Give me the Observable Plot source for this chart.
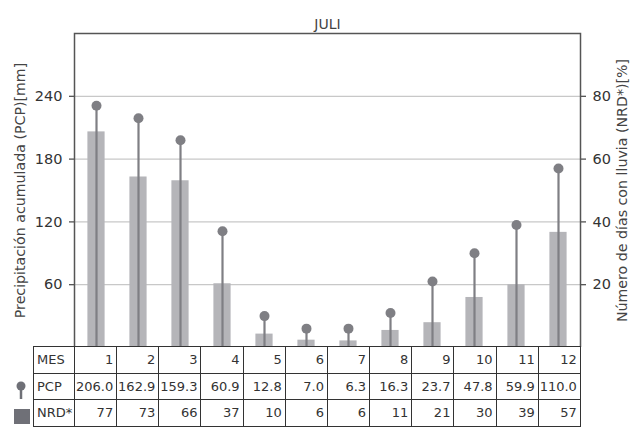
<!DOCTYPE html>
<html>
<head>
<meta charset="utf-8">
<script src="https://cdn.jsdelivr.net/npm/d3@7"></script>
<script src="https://cdn.jsdelivr.net/npm/@observablehq/plot@0.6"></script>
<style>
  body { margin: 0; background: #fff; font-family: "DejaVu Sans", sans-serif; }
  #wrap { position: relative; width: 637px; height: 439px; }
  #chart { position: absolute; left: 0; top: 0; }
  table { position: absolute; left: 33px; top: 346px; border-collapse: collapse; table-layout: fixed;
          font-family: "DejaVu Sans", sans-serif; font-size: 13px; color: #333; }
  td { border: 1.5px solid #333; height: 25.5px; padding: 0 3px 0 0; text-align: right; overflow: hidden; white-space: nowrap; }
  td.lab { text-align: left; padding-left: 3px; }
  #legend { position: absolute; left: 0; top: 375px; }
</style>
</head>
<body>
<div id="wrap">
  <div id="chart"></div>
  <table id="tbl"></table>
  <svg id="legend" width="34" height="60"></svg>
</div>
<script>
const months = [1,2,3,4,5,6,7,8,9,10,11,12];
const pcp = [206.0,162.9,159.3,60.9,12.8,7.0,6.3,16.3,23.7,47.8,59.9,110.0];
const nrd = [77,73,66,37,10,6,6,11,21,30,39,57];
const leftTicks = [60,120,180,240];
const rightTicks = [20,40,60,80];
const title = "JULI";
const leftLabel = "Precipitación acumulada (PCP)[mm]";
const rightLabel = "Número de días con lluvia (NRD*)[%]";

const ratio = 3; // right axis = left axis / 3
const data = months.map((m, i) => ({m, pcp: pcp[i], nrd: nrd[i], nrdScaled: nrd[i] * ratio}));

const W = 637, H = 347, mL = 74, mR = 57, mT = 33, mB = 0;
const barColor = "#b5b5b9", lolliColor = "#7f7f84";

const plot = Plot.plot({
  width: W, height: H,
  marginLeft: mL, marginRight: mR, marginTop: mT, marginBottom: mB,
  style: {fontFamily: "DejaVu Sans, sans-serif", fontSize: "14px", color: "#333", background: "#fff"},
  x: {type: "band", domain: months, padding: 0, axis: null},
  y: {domain: [0, 300], axis: null},
  marks: [
    Plot.ruleY(leftTicks, {stroke: "#c8c8c8", strokeWidth: 1.2}),
    Plot.barY(data, {x: "m", y: "pcp", fill: barColor, insetLeft: 12.4, insetRight: 12.4}),
    Plot.ruleX(data, {x: "m", y1: 0, y2: "nrdScaled", stroke: lolliColor, strokeWidth: 2.2}),
    Plot.dot(data, {x: "m", y: "nrdScaled", r: 5, fill: lolliColor}),
    Plot.axisY({ticks: leftTicks, anchor: "left", tickSize: 5, tickPadding: 7, fontSize: 14.5, label: null, stroke: "#444", strokeWidth: 1.2, fill: "#333"}),
    Plot.axisY({ticks: rightTicks.map(d => d * ratio), tickFormat: d => d / ratio, anchor: "right", tickSize: 5, tickPadding: 7, fontSize: 14.5, label: null, stroke: "#444", strokeWidth: 1.2, fill: "#333"}),
    Plot.frame({stroke: "#555", strokeWidth: 1.5}),
    Plot.text([title], {frameAnchor: "top", dy: -14, fontSize: 14, fill: "#444"}),
    Plot.text([leftLabel], {frameAnchor: "left", textAnchor: "middle", dx: -54, rotate: -90, fontSize: 14.2, fill: "#444"}),
    Plot.text([rightLabel], {frameAnchor: "right", textAnchor: "middle", dx: 42, rotate: -90, fontSize: 14.2, fill: "#444"})
  ]
});
document.getElementById("chart").appendChild(plot);

// table
const colW = (W - mL - mR) / months.length;
const tbl = d3.select("#tbl");
const cg = tbl.append("colgroup");
cg.append("col").style("width", (mL - 33) + "px");
months.forEach(() => cg.append("col").style("width", colW + "px"));
tbl.style("width", (W - mR - 33) + "px");
const rows = [
  ["MES", months.map(String)],
  ["PCP", pcp.map(v => v.toFixed(1))],
  ["NRD*", nrd.map(String)]
];
rows.forEach(([lab, vals]) => {
  const tr = tbl.append("tr");
  tr.append("td").attr("class", "lab").text(lab);
  vals.forEach(v => tr.append("td").text(v));
});

// legend icons
const lg = d3.select("#legend");
lg.append("line").attr("x1", 21).attr("x2", 21).attr("y1", 11).attr("y2", 24).attr("stroke", "#6f7077").attr("stroke-width", 2.5);
lg.append("circle").attr("cx", 21).attr("cy", 11).attr("r", 4.5).attr("fill", "#6f7077");
lg.append("rect").attr("x", 14).attr("y", 34).attr("width", 16).attr("height", 15).attr("fill", "#6f7077");
</script>
</body>
</html>
